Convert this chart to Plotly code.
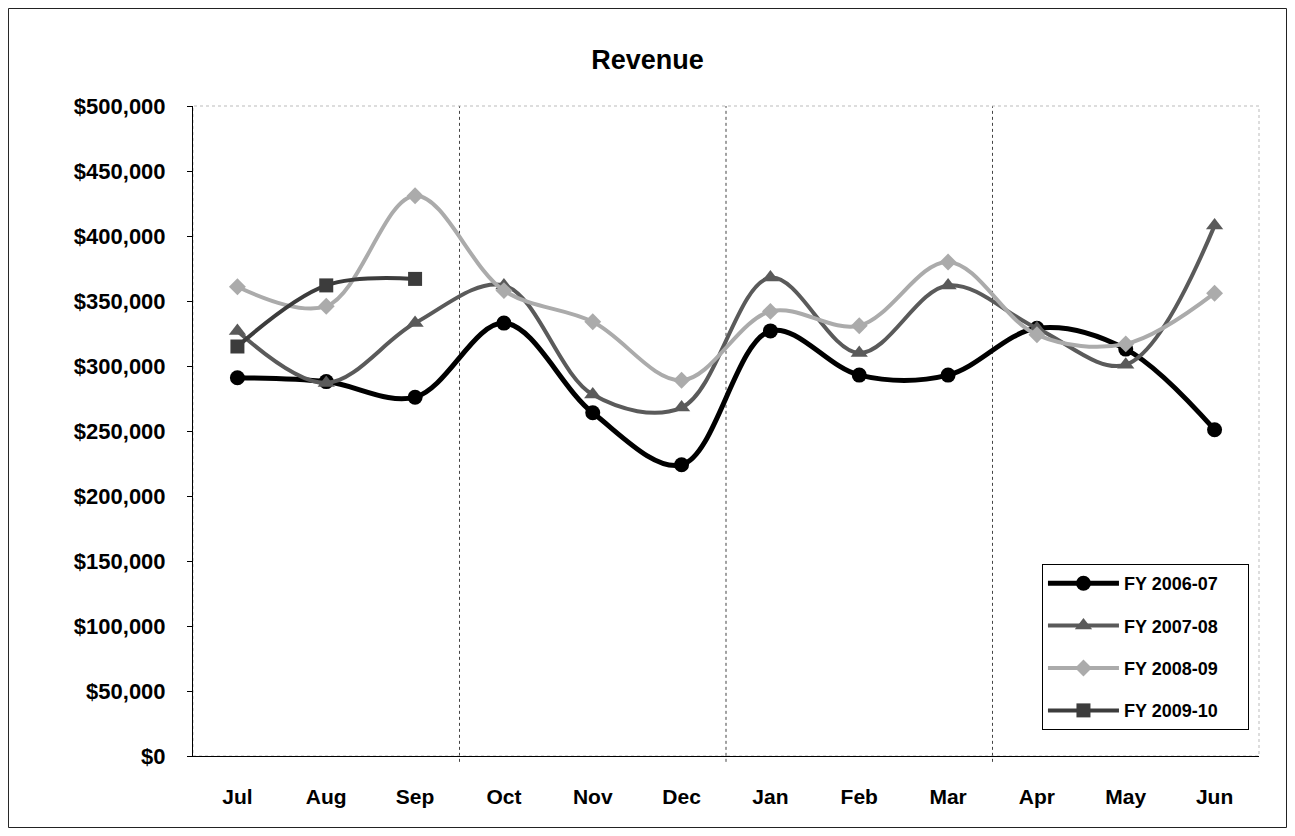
"""Monthly revenue by fiscal year, smoothed line chart."""

import plotly.graph_objects as go

months = ["Jul", "Aug", "Sep", "Oct", "Nov", "Dec",
          "Jan", "Feb", "Mar", "Apr", "May", "Jun"]

fy_2006_07 = [291000, 288000, 276000, 333000, 264000, 224000,
              327000, 293000, 293000, 329000, 313000, 251000]
fy_2007_08 = [327000, 287000, 333000, 362000, 278000, 268000,
              368000, 310000, 362000, 329000, 301000, 408000]
fy_2008_09 = [361000, 346000, 431000, 358000, 334000, 289000,
              342000, 331000, 380000, 324000, 317000, 356000]
fy_2009_10 = [315000, 362000, 367000]

quarter_breaks = [2.5, 5.5, 8.5]

series = [
    ("FY 2006-07", fy_2006_07, "#000000", "circle", 15, 5),
    ("FY 2007-08", fy_2007_08, "#5a5a5a", "triangle-up", 15, 4),
    ("FY 2008-09", fy_2008_09, "#ababab", "diamond", 13, 4),
    ("FY 2009-10", fy_2009_10, "#3c3c3c", "square", 14, 4),
]

# pad the legend text so the box gets the same empty room on the right
legend_pad = "\u00a0" * 5

fig = go.Figure()

for i, (name, values, color, symbol, size, width) in enumerate(series):
    fig.add_trace(
        go.Scatter(
            x=months[: len(values)],
            y=values,
            name=name + legend_pad,
            mode="lines+markers",
            line={"color": color, "width": width, "shape": "spline", "smoothing": 1.0},
            marker={"symbol": symbol, "size": size, "color": color},
            legendgroup=f"g{i}",
        )
    )

# quarter dividers and their small ticks under the axis
for xb in quarter_breaks:
    fig.add_shape(
        type="line", xref="x", yref="paper", x0=xb, x1=xb, y0=-0.009, y1=1,
        line={"color": "#444444", "width": 1, "dash": "dot"}, layer="below",
    )

# faint plot area border on top / right
fig.add_shape(
    type="rect", xref="paper", yref="paper", x0=0, x1=1, y0=0, y1=1,
    line={"color": "#bbbbbb", "width": 1, "dash": "dot"}, layer="below",
)

# outer chart border
fig.add_shape(
    type="rect", xref="paper", yref="paper",
    x0=-0.1731, x1=1.0258, y0=-0.110, y1=1.150,
    line={"color": "#222222", "width": 1},
)

font_family = "Liberation Sans, Arial, sans-serif"

fig.update_layout(
    width=1279,
    height=820,
    margin={"l": 185, "r": 28, "t": 98, "b": 72},
    paper_bgcolor="white",
    plot_bgcolor="white",
    font={"family": font_family, "color": "black"},
    title={
        "text": "<b>Revenue</b>",
        "x": 0.5,
        "xref": "container",
        "xanchor": "center",
        "y": 0.937,
        "yanchor": "middle",
        "font": {"size": 27, "family": font_family, "color": "black"},
    },
    showlegend=True,
    legend={
        "x": 0.7964,
        "y": 0.2954,
        "xanchor": "left",
        "yanchor": "top",
        "bgcolor": "white",
        "bordercolor": "black",
        "borderwidth": 1,
        "font": {"size": 18, "family": font_family, "color": "black", "weight": "bold"},
        "tracegroupgap": 16,
        "itemwidth": 71,
    },
)

fig.update_xaxes(
    type="category",
    categoryorder="array",
    categoryarray=months,
    range=[-0.5, 11.5],
    showgrid=False,
    showline=True,
    linecolor="black",
    linewidth=1,
    ticks="",
    tickfont={"size": 21, "family": font_family, "color": "black", "weight": "bold"},
    ticklabelstandoff=22,
)

fig.update_yaxes(
    range=[0, 500000],
    dtick=50000,
    tickformat="$,.0f",
    showgrid=False,
    showline=True,
    linecolor="black",
    linewidth=1,
    ticks="outside",
    ticklen=5,
    tickcolor="black",
    zeroline=False,
    tickfont={"size": 22, "family": font_family, "color": "black", "weight": "bold"},
    ticklabelstandoff=17,
)

fig.write_html("out.html")
